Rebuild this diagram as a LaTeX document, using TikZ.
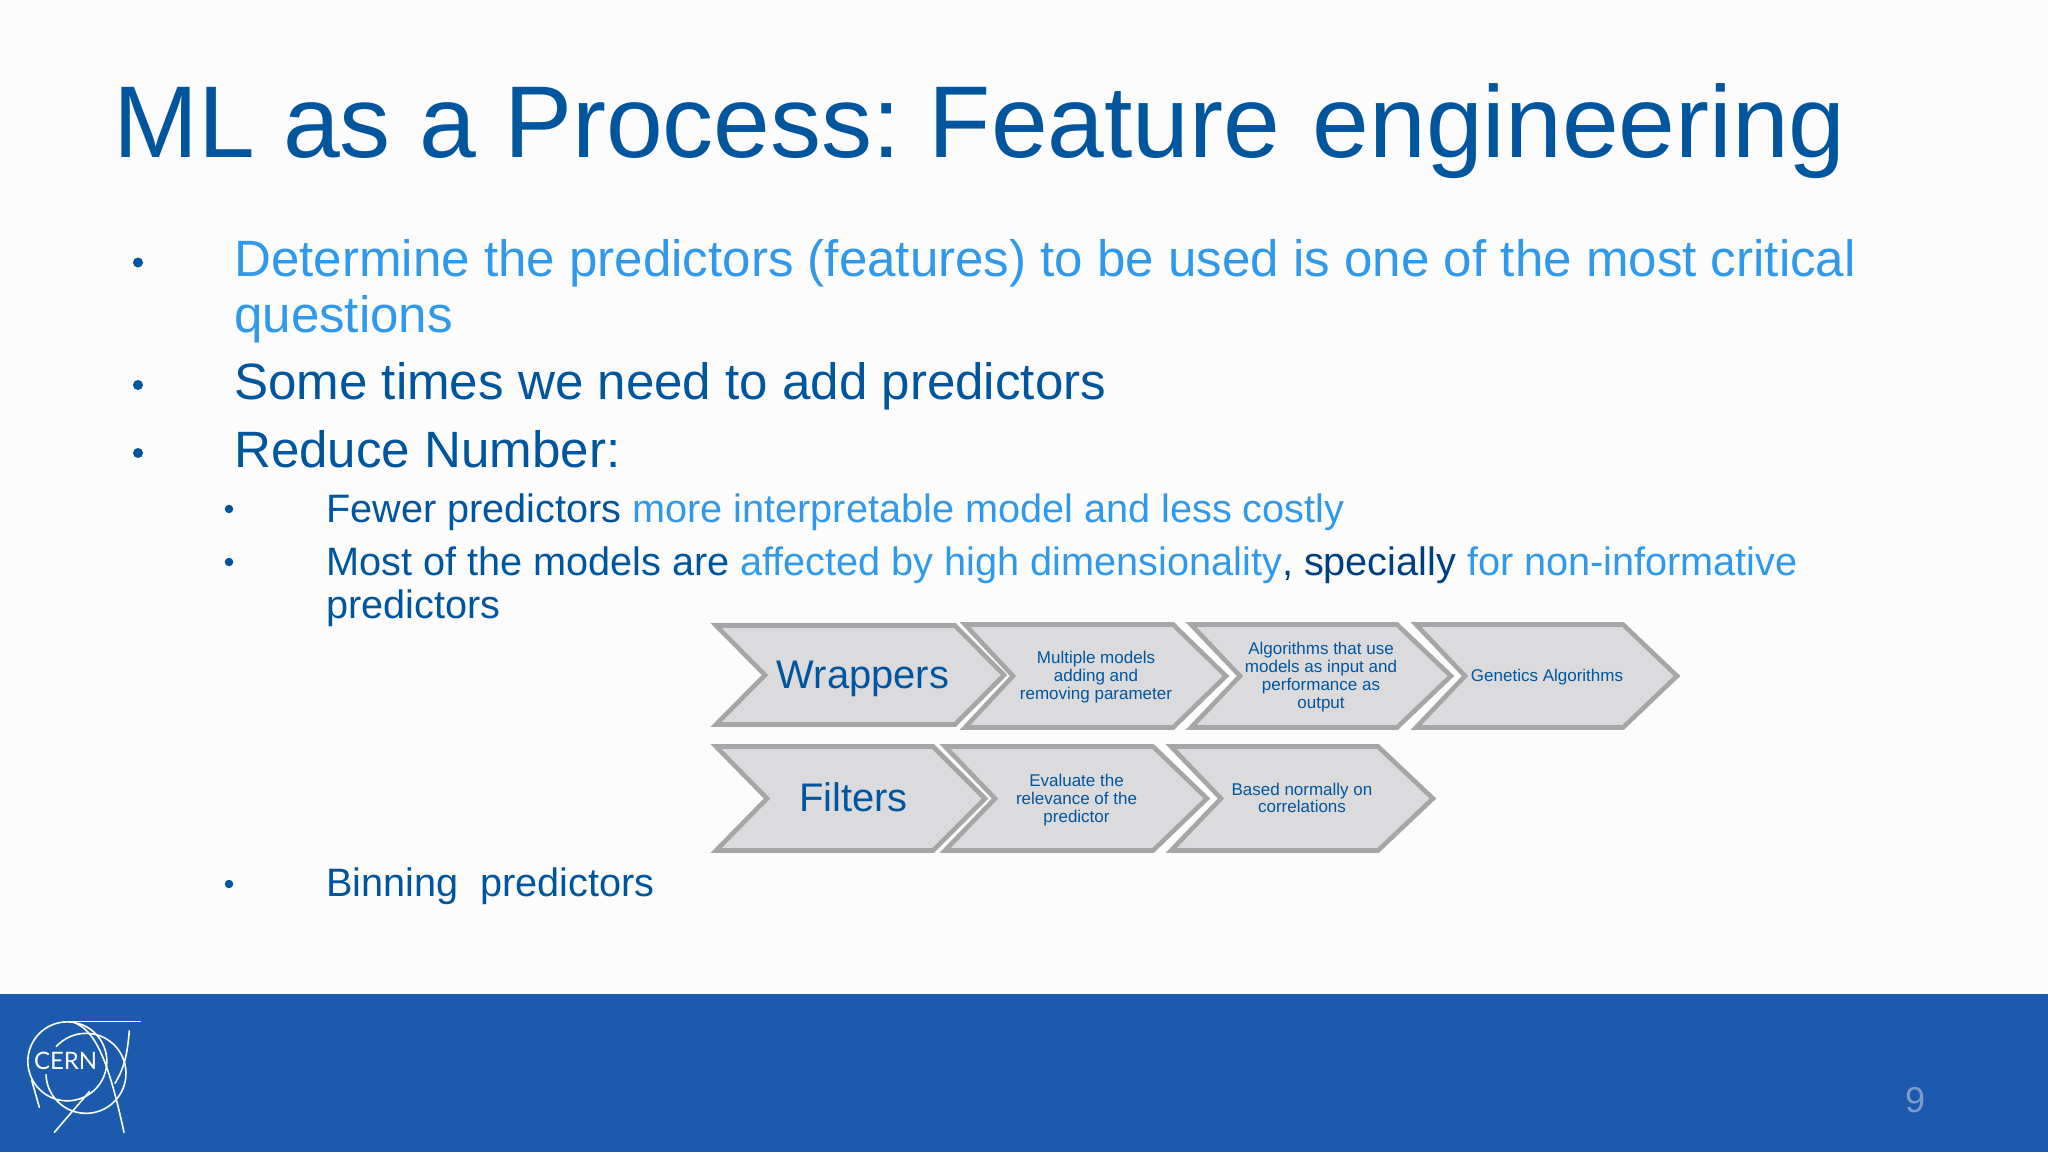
\documentclass[tikz,border=0pt]{standalone}
\usepackage{fontspec}
\setmainfont{Liberation Sans}
\newfontfamily\logofont{Lato}
\definecolor{titleblue}{HTML}{00559F}
\definecolor{lightblue}{HTML}{3199EC}
\definecolor{footerblue}{HTML}{1C5AAD}
\definecolor{chevfill}{HTML}{DBDBDD}
\definecolor{chevline}{HTML}{A6A6A9}
\definecolor{pagenum}{HTML}{7F9BCB}
\definecolor{darktext}{HTML}{003F7F}
\tikzset{
  titletext/.style={anchor=base west,inner sep=0pt,text=titleblue,font=\fontsize{102}{102}\selectfont},
  lvlone/.style={anchor=base west,inner sep=0pt,text=titleblue,font=\fontsize{51.1}{51.1}\selectfont},
  lvltwo/.style={anchor=base west,inner sep=0pt,text=titleblue,font=\fontsize{39.65}{39.65}\selectfont},
  bulletmark/.style={circle,fill=titleblue,inner sep=0pt,minimum size=10pt},
  smallbullet/.style={circle,fill=titleblue,inner sep=0pt,minimum size=8.5pt},
  chevbody/.style={draw=chevline,fill=chevfill,line width=4.6pt,miter limit=10},
  chevbig/.style={inner sep=0pt,text=titleblue,font=\fontsize{39.9}{39.9}\selectfont},
  chevsmall/.style={inner sep=0pt,align=center,text=titleblue,font=\fontsize{17}{17.8}\selectfont},
  logoline/.style={draw=white,line width=1.6pt,line cap=round},
}
\newcommand{\chevshape}[6]{% xTL xTR xTip xNotch yTop yBot
  \draw[chevbody] (#1,#5) -- (#2,#5) -- (#3,{(#5+#6)/2}) -- (#2,#6) -- (#1,#6) -- (#4,{(#5+#6)/2}) -- cycle;
}
\begin{document}
\begin{tikzpicture}[x=1pt,y=-1pt]
\useasboundingbox (0,0) rectangle (2048,1152);
\fill[white!99!black] (0,0) rectangle (2048,1152);
\fill[footerblue] (0,994) rectangle (2048,1152);

\node[titletext] (title) at (113,157) {ML as a Process: \hspace{-10pt}Feature \hspace{4pt}engineering};

\node[bulletmark] (b1) at (138,262.5) {};
\node[lvlone,text=lightblue] (l1) at (234,276) {Determine the predictors (features) to be used is one of the most critical};
\node[lvlone,text=lightblue] (l1b) at (234,332) {questions};
\node[bulletmark] (b2) at (138,385) {};
\node[lvlone] (l2) at (234,399) {Some times we need to add predictors};
\node[bulletmark] (b3) at (138,453) {};
\node[lvlone] (l3) at (234,467) {Reduce Number:};

\node[smallbullet] (s1) at (229,509) {};
\node[lvltwo] (t1) at (326,522) {Fewer predictors \textcolor{lightblue}{more interpretable model and less costly}};
\node[smallbullet] (s2) at (229,562) {};
\node[lvltwo] (t2) at (326,575) {Most of the models are \textcolor{lightblue}{affected by high dimensionality}\textcolor{darktext}{, specially} \textcolor{lightblue}{for non-informative}};
\node[lvltwo] (t2b) at (326,618) {predictors};
\node[smallbullet] (s3) at (229,884) {};
\node[lvltwo] (t3) at (326,896) {Binning\ \ predictors};

% chevrons, top row
\chevshape{716}{955}{1004}{765}{625.5}{724.5}
\chevshape{965}{1173}{1226}{1013}{624.5}{727.5}
\chevshape{1191}{1397}{1451}{1240}{624.5}{727.5}
\chevshape{1416}{1623}{1677}{1465}{624.5}{727.5}
% chevrons, bottom row
\chevshape{716}{933}{985}{767}{746.5}{850.5}
\chevshape{945}{1153}{1207}{995}{746.5}{850.5}
\chevshape{1171}{1378}{1433}{1221}{746.5}{850.5}

\node[chevbig] (wrap) at (863,678.5) {Wrappers};
\node[chevsmall] (c2) at (1096,677) {Multiple models\\adding and\\removing parameter};
\node[chevsmall] (c3) at (1321,677) {Algorithms that use\\models as input and\\performance as\\output};
\node[chevsmall] (c4) at (1547,677) {Genetics Algorithms};
\node[chevbig] (filt) at (853.5,797) {Filters};
\node[chevsmall] (f2) at (1076.5,800) {Evaluate the\\relevance of the\\predictor};
\node[chevsmall] (f3) at (1302,798) {Based normally on\\correlations};

% page number
\node[inner sep=0pt,text=pagenum,font=\fontsize{36}{36}\selectfont] (pg) at (1915,1100) {9};

% CERN logo
\begin{scope}[shift={(0,990)},x=0.33333pt,y=-0.33333pt]
  \coordinate (c1) at (202,214);
  \coordinate (c2l) at (258,250);
  \draw[logoline] (c1) circle[radius=39.5pt];
  \draw[logoline] (c2l) ++(182:40pt) arc[start angle=182,end angle=498,radius=40pt];
  \draw[logoline] (200,95) -- (420,95);
  \draw[logoline] (215,95) .. controls (285,115) and (325,210) .. (372,427);
  \draw[logoline] (388,122) .. controls (382,190) and (375,230) .. (345,280);
  \draw[logoline] (163,427) -- (268,305);
  \draw[logoline] (95,270) -- (118,352);
  \node[inner sep=0pt,text=white,font=\logofont\fontsize{24}{24}\selectfont] (cern) at (197,212) {CERN};
\end{scope}
\end{tikzpicture}
\end{document}
